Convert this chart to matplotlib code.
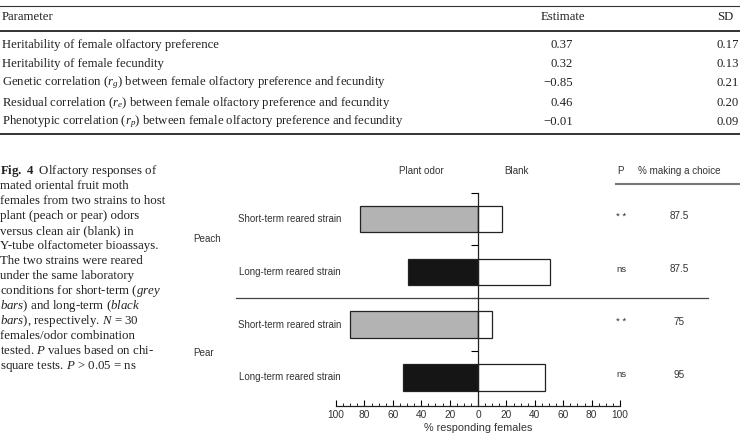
import matplotlib
matplotlib.use('Agg')
import matplotlib.pyplot as plt
from matplotlib.lines import Line2D

plt.rcParams['mathtext.fontset'] = 'custom'
plt.rcParams['mathtext.rm'] = 'Liberation Serif'
plt.rcParams['mathtext.it'] = 'Liberation Serif:italic'
plt.rcParams['mathtext.bf'] = 'Liberation Serif:bold'

# table data
params = ['Heritability of female olfactory preference',
          'Heritability of female fecundity',
          r'Genetic correlation ($r_g$) between female olfactory preference and fecundity',
          r'Residual correlation ($r_e$) between female olfactory preference and fecundity',
          r'Phenotypic correlation ($r_p$) between female olfactory preference and fecundity']
estimates = ['0.37', '0.32', '\u22120.85', '0.46', '\u22120.01']
sds = ['0.17', '0.13', '0.21', '0.20', '0.09']

# caption
caption = [r'$\mathbf{Fig.\ 4}$  Olfactory responses of',
           'mated oriental fruit moth',
           'females from two strains to host',
           'plant (peach or pear) odors',
           'versus clean air (blank) in',
           'Y-tube olfactometer bioassays.',
           'The two strains were reared',
           'under the same laboratory',
           r'conditions for short-term ($\mathit{grey}$',
           r'$\mathit{bars}$) and long-term ($\mathit{black}$',
           r'$\mathit{bars}$), respectively. $N$ = 30',
           'females/odor combination',
           r'tested. $P$ values based on chi-',
           r'square tests. $P$ > 0.05 = ns']

# chart data
hosts = ['Peach', 'Pear']
strains = ['Short-term reared strain', 'Long-term reared strain',
           'Short-term reared strain', 'Long-term reared strain']
plant_odor = [83, 49, 90, 53]
blank = [17, 51, 10, 47]
p_marks = ['* *', 'ns', '* *', 'ns']
choice = ['87.5', '87.5', '75', '95']
fills = ['#b3b3b3', '#151515', '#b3b3b3', '#151515']

W, H = 740, 445
fig = plt.figure(figsize=(W / 100, H / 100), dpi=100)


def fx(px):
    return px / W


def fy(py):
    return 1 - py / H


serif = 'Liberation Serif'
sans = 'Liberation Sans'
tc = '#222222'
gc = '#333333'
tfs = 9.2

# ---- table ----
for yy, lw in [(6, 0.8), (31, 1.4), (134, 1.4)]:
    fig.add_artist(Line2D([0, 1], [fy(yy), fy(yy)], transform=fig.transFigure,
                          color='#333333', lw=lw))
fig.text(fx(2), fy(17), 'Parameter', family=serif, fontsize=tfs, va='center', color=tc)
fig.text(fx(563), fy(17), 'Estimate', family=serif, fontsize=tfs, va='center', ha='center', color=tc)
fig.text(fx(733), fy(17), 'SD', family=serif, fontsize=tfs, va='center', ha='right', color=tc)
row_y = [45, 64, 83, 103, 122]
for yy, p, e, s in zip(row_y, params, estimates, sds):
    fig.text(fx(2), fy(yy), p, family=serif, fontsize=tfs, va='center', color=tc)
    fig.text(fx(573), fy(yy), e, family=serif, fontsize=tfs, va='center', ha='right', color=tc)
    fig.text(fx(739), fy(yy), s, family=serif, fontsize=tfs, va='center', ha='right', color=tc)

# ---- caption ----
for i, line in enumerate(caption):
    fig.text(fx(0), fy(171 + 15 * i), line, family=serif, fontsize=9.3,
             va='center', ha='left', color=tc)

# ---- chart ----
ax = fig.add_axes([336 / W, 39 / H, 284 / W, 213.5 / H])
y = list(range(len(strains)))
ax.barh(y, [-v for v in plant_odor], height=0.5, color=fills,
        edgecolor='#222222', linewidth=0.9)
ax.barh(y, blank, height=0.5, color='white', edgecolor='#222222', linewidth=0.9)

ax.set_xlim(-100, 100)
ax.set_ylim(3.54, -0.5)
ax.set_xticks(range(-100, 101, 20))
ax.set_xticklabels([str(abs(v)) for v in range(-100, 101, 20)])
ax.set_xticks(range(-100, 101, 5), minor=True)
ax.tick_params(axis='x', which='major', direction='in', length=4, width=0.8,
               labelsize=7.3, labelcolor=gc, pad=3)
ax.tick_params(axis='x', which='minor', direction='in', length=2.5, width=0.6)
ax.set_yticks([-0.5, 0.5, 1.5, 2.5])
ax.set_yticklabels([])
ax.tick_params(axis='y', direction='out', length=5, width=0.8)
for lab in ax.get_xticklabels():
    lab.set_family(sans)
ax.set_xlabel('% responding females', family=sans, fontsize=7.8, color=gc, labelpad=2)

ax.spines['top'].set_visible(False)
ax.spines['right'].set_visible(False)
ax.spines['left'].set_position(('data', 0))
ax.spines['left'].set_bounds(-0.5, 3.54)
ax.spines['bottom'].set_bounds(-100, 100)
for s in ['left', 'bottom']:
    ax.spines[s].set_linewidth(0.9)
    ax.spines[s].set_color('#222222')
ax.patch.set_visible(False)

yt = ax.get_yaxis_transform()
ax.axhline(1.5, xmin=-0.352, xmax=1.31, color='#444444', lw=0.9, clip_on=False)
ax.add_line(Line2D([0.986, 1.43], [-0.66, -0.66], transform=yt, color='#777777',
                   lw=1.5, clip_on=False))

for xa, head in [(0.299, 'Plant odor'), (0.636, 'Blank'), (1.0035, 'P'),
                 (1.208, '% making a choice')]:
    ax.text(xa, -0.9, head, transform=yt, ha='center', va='center',
            family=sans, fontsize=7.1, color=gc)

for yi, st, pm, ch in zip(y, strains, p_marks, choice):
    ax.text(-0.1637, yi, st, transform=yt, ha='center', va='center',
            family=sans, fontsize=7, color=gc)
    ax.text(1.0035, yi - 0.05, pm, transform=yt, ha='center', va='center',
            family=sans, fontsize=6.8, color=gc)
    ax.text(1.208, yi - 0.05, ch, transform=yt, ha='center', va='center',
            family=sans, fontsize=7.2, color=gc)

for hy, h in zip([0.38, 2.54], hosts):
    ax.text(-0.5035, hy, h, transform=yt, ha='left', va='center',
            family=sans, fontsize=7.1, color=gc)

fig.savefig('out.png', dpi=100)
